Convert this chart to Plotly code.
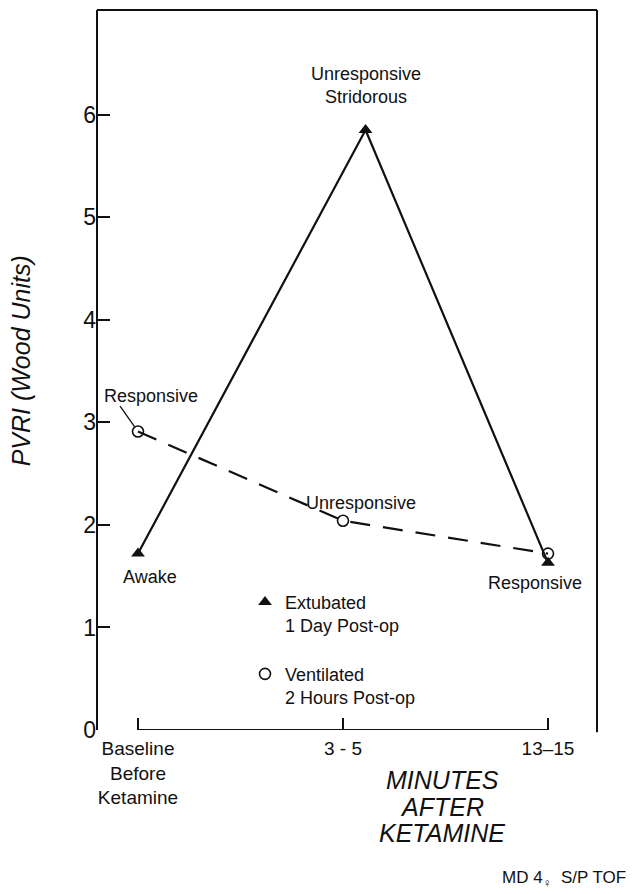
import plotly.graph_objects as go

# ---- data ----
x_labels = ["Baseline<br>Before<br>Ketamine", "3 - 5", "13–15"]
x_pos = [0, 1, 2]
extubated_x = [0, 1.11, 2]
extubated_y = [1.72, 5.85, 1.63]
ventilated_x = [0, 1, 2]
ventilated_y = [2.91, 2.04, 1.72]
y_ticks = [0, 1, 2, 3, 4, 5, 6]
x_title_lines = ["MINUTES", "AFTER", "KETAMINE"]

FONT = "Liberation Sans"
BLACK = "#111111"

fig = go.Figure()

fig.add_trace(go.Scatter(
    x=ventilated_x, y=ventilated_y, mode="lines+markers",
    line=dict(color=BLACK, width=2.2, dash="20px,13px"),
    marker=dict(symbol="circle-open", size=11, color=BLACK, line=dict(width=1.6)),
    showlegend=False, cliponaxis=False))
fig.add_trace(go.Scatter(
    x=extubated_x, y=extubated_y, mode="lines+markers",
    line=dict(color=BLACK, width=2.2),
    marker=dict(symbol="triangle-up", size=12, color=BLACK),
    showlegend=False, cliponaxis=False))

# legend-only entries
fig.add_trace(go.Scatter(x=[None], y=[None], mode="markers", legendgroup="a",
                         name="Extubated<br>1 Day Post-op",
                         marker=dict(symbol="triangle-up", size=12, color=BLACK)))
fig.add_trace(go.Scatter(x=[None], y=[None], mode="markers", legendgroup="b",
                         name="Ventilated<br>2 Hours Post-op",
                         marker=dict(symbol="circle-open", size=11, color=BLACK,
                                     line=dict(width=1.6))))

ann_font = dict(family=FONT, size=18, color=BLACK)
annotations = [
    dict(x=extubated_x[1], y=extubated_y[1], text="Unresponsive<br>Stridorous",
         showarrow=False, yshift=45, font=ann_font),
    dict(x=ventilated_x[0], y=ventilated_y[0], text="Responsive",
         showarrow=False, xshift=13, yshift=36, font=ann_font),
    dict(x=ventilated_x[0], y=ventilated_y[0], text="", showarrow=True,
         arrowhead=0, arrowwidth=1.3, arrowcolor=BLACK, ax=-19, ay=-27, standoff=6),
    dict(x=extubated_x[0], y=extubated_y[0], text="Awake",
         showarrow=False, xshift=12, yshift=-23, font=ann_font),
    dict(x=ventilated_x[1], y=ventilated_y[1], text="Unresponsive",
         showarrow=False, xshift=18, yshift=18, font=ann_font),
    dict(x=ventilated_x[2], y=ventilated_y[2], text="Responsive",
         showarrow=False, xshift=-13, yshift=-29, font=ann_font),
    dict(xref="paper", yref="paper", x=-0.152, y=0.512, xanchor="center", yanchor="middle",
         text="<i>PVRI (Wood Units)</i>", textangle=-90, showarrow=False,
         font=dict(family=FONT, size=25, color=BLACK)),
    dict(xref="paper", yref="paper", x=0.806, y=-0.207, xanchor="left", yanchor="middle",
         text="MD 4<sub>♀</sub>  S/P TOF", showarrow=False,
         font=dict(family=FONT, size=17, color=BLACK)),
]
for line_text, yp in zip(x_title_lines, [-0.0694, -0.1069, -0.1431]):
    annotations.append(dict(xref="x", yref="paper", x=1.483, y=yp,
                            xanchor="center", yanchor="middle",
                            text=f"<i>{line_text}</i>", showarrow=False,
                            font=dict(family=FONT, size=25, color=BLACK)))

line_style = dict(color=BLACK, width=2)
shapes = [
    dict(type="line", xref="paper", yref="paper", x0=0, x1=0, y0=0, y1=1, line=line_style),
    dict(type="line", xref="paper", yref="paper", x0=0, x1=1, y0=1, y1=1, line=line_style),
    dict(type="line", xref="paper", yref="paper", x0=1, x1=1, y0=-0.003, y1=1, line=line_style),
    dict(type="line", xref="paper", yref="y", x0=0.96, x1=1, y0=-0.02, y1=-0.02, line=line_style),
    dict(type="line", xref="x", yref="y", x0=x_pos[0], x1=x_pos[-1], y0=0, y1=0, line=line_style),
]

fig.update_layout(
    width=636, height=886,
    margin=dict(l=89, r=47, t=2, b=164),
    paper_bgcolor="white", plot_bgcolor="white",
    font=dict(family=FONT, size=17, color=BLACK),
    annotations=annotations, shapes=shapes,
    showlegend=True,
    legend=dict(x=0.296, y=0.203, xanchor="left", yanchor="top",
                bgcolor="rgba(0,0,0,0)", font=dict(family=FONT, size=18, color=BLACK),
                valign="top", tracegroupgap=22, itemwidth=30),
    xaxis=dict(range=[-0.2, 2.239], tickvals=x_pos, ticktext=x_labels,
               ticks="inside", ticklen=12, tickwidth=2, tickcolor=BLACK,
               ticklabelstandoff=5,
               showgrid=False, zeroline=False, showline=False,
               tickfont=dict(family=FONT, size=19, color=BLACK)),
    yaxis=dict(range=[0, 7.02], tickvals=y_ticks,
               ticks="inside", ticklen=13, tickwidth=2, tickcolor=BLACK,
               showgrid=False, zeroline=False, showline=False,
               tickfont=dict(family=FONT, size=23, color=BLACK)),
)

fig.write_html("out.html")
